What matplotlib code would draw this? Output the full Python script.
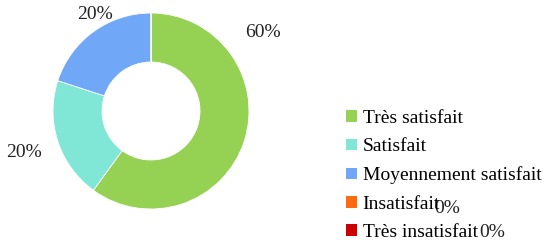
import matplotlib
matplotlib.use("Agg")
import matplotlib.pyplot as plt
from matplotlib.patches import Patch

categories = ["Très satisfait", "Satisfait", "Moyennement satisfait", "Insatisfait", "Très insatisfait"]
values = [60, 20, 20, 0, 0]
colors = ["#95D152", "#80E6D6", "#70A8F7", "#FF6A0E", "#CC0000"]

# label positions (in pie-radius units), style only
label_pos = [(1.14, 0.80), (-1.30, -0.42), (-0.57, 0.98), (3.02, -0.99), (3.48, -1.24)]

W, H = 549, 246
fig = plt.figure(figsize=(W / 100, H / 100), dpi=100)
cx, cy, r = 151, 111, 98
ax = fig.add_axes([(cx - r) / W, (H - cy - r) / H, 2 * r / W, 2 * r / H])

font = "Liberation Serif"
total = sum(values)
nz = [v if v > 0 else 1e-9 for v in values]
wedges, _ = ax.pie(nz, colors=colors, startangle=90, counterclock=False, radius=1,
                   wedgeprops=dict(width=0.5, edgecolor="white", linewidth=0.6))
ax.set_xlim(-1, 1)
ax.set_ylim(-1, 1)
ax.set_aspect("equal")
ax.axis("off")
for v, (x, y) in zip(values, label_pos):
    ax.text(x, y, f"{round(100 * v / total)}%", ha="center", va="center",
            fontsize=14, family=font, color="#222222", clip_on=False, zorder=5)

handles = [Patch(facecolor=c, edgecolor="none") for c in colors]
fig.legend(handles, categories, loc="upper left", bbox_to_anchor=(346 / W, 1 - 110 / H),
           frameon=False, prop=dict(family=font, size=14), handlelength=0.55, handleheight=0.55,
           handletextpad=0.3, labelspacing=0.58, borderpad=0, borderaxespad=0)

fig.savefig("out.png", dpi=100, facecolor="white")
